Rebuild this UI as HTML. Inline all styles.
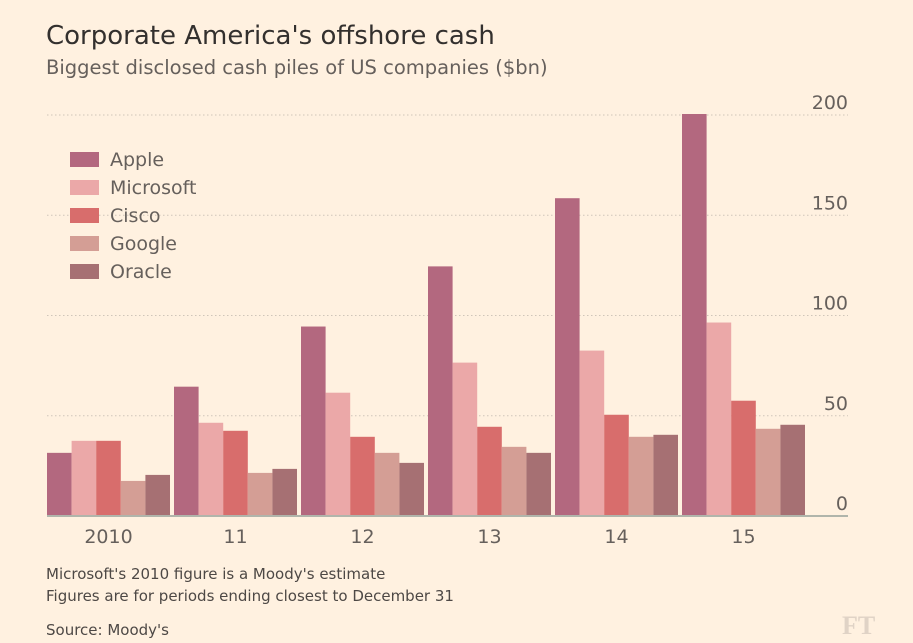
<!DOCTYPE html>
<html><head><meta charset="utf-8"><style>
body{margin:0;background:#fff1e0;}
svg{display:block;font-family:"DejaVu Sans","Liberation Sans",sans-serif;}
</style></head><body>
<svg width="913" height="643">
<rect width="913" height="643" fill="#fff1e0"/>
<text x="46" y="44" font-size="26" fill="#33302e">Corporate America's offshore cash</text>
<text x="46" y="74" font-size="19.5" fill="#66605c">Biggest disclosed cash piles of US companies ($bn)</text>
<g id="grid"></g><g id="bars"></g><g id="axis"></g><g id="legend"></g>
<text x="46" y="579" font-size="15" fill="#4d4845">Microsoft's 2010 figure is a Moody's estimate</text>
<text x="46" y="601" font-size="15" fill="#4d4845">Figures are for periods ending closest to December 31</text>
<text x="46" y="635" font-size="15" fill="#4d4845">Source: Moody's</text>
<text x="842" y="634" font-size="26" font-family="Liberation Serif,serif" font-weight="bold" fill="#e0d3c6">FT</text>
</svg>
<script>
const years=["2010","11","12","13","14","15"];
const apple=[31,64,94,124,158,200];
const microsoft=[37,46,61,76,82,96];
const cisco=[37,42,39,44,50,57];
const google=[17,21,31,34,39,43];
const oracle=[20,23,26,31,40,45];
const ticks=[0,50,100,150,200];
const seriesNames=["Apple","Microsoft","Cisco","Google","Oracle"];
const series=[apple,microsoft,cisco,google,oracle];
const colors=["#b3687f","#eba8a8","#d86d6c","#d49e95","#a67073"];
const NS="http://www.w3.org/2000/svg";
const y0=516,pxPer=401/200;
function y(v){return y0-v*pxPer;}
function gx(i){return 47+i*127;}
const bw=24.6;
function mk(t,a,p){const e=document.createElementNS(NS,t);for(const k in a)e.setAttribute(k,a[k]);p.appendChild(e);return e;}
const grid=document.getElementById('grid'),bars=document.getElementById('bars'),axis=document.getElementById('axis'),leg=document.getElementById('legend');
ticks.forEach(t=>{
 if(t>0){const l=mk('line',{x1:47,x2:848,y1:y(t),y2:y(t),stroke:'#cfc5b9','stroke-dasharray':'1.5,2.5','stroke-width':1},grid);
 
 }
 const tx=mk('text',{x:848,y:y(t)-6,'text-anchor':'end','font-size':19,fill:'#66605c'},axis);tx.textContent=t;
 
 
});
years.forEach((yr,i)=>{
 series.forEach((s,j)=>{
  const r=mk('rect',{x:gx(i)+j*bw,y:y(s[i])-1,width:bw,height:s[i]*pxPer+1,fill:colors[j]},bars);
  
  
 });
 const tx=mk('text',{x:gx(i)+2.5*bw,y:543,'text-anchor':'middle','font-size':19,fill:'#66605c'},axis);tx.textContent=yr;
 
 
});
const bl=mk('line',{x1:47,x2:848,y1:y0,y2:y0,stroke:'#b0b5ab','stroke-width':2},axis);


seriesNames.forEach((n,j)=>{
 const g=mk('g',{},leg);
 
 
 const yy=152+j*28;
 mk('rect',{x:70,y:yy,width:29,height:15,fill:colors[j]},g);
 const t=mk('text',{x:110,y:yy+14,'font-size':19,fill:'#66605c'},g);t.textContent=n;
});
</script>
</body></html>
